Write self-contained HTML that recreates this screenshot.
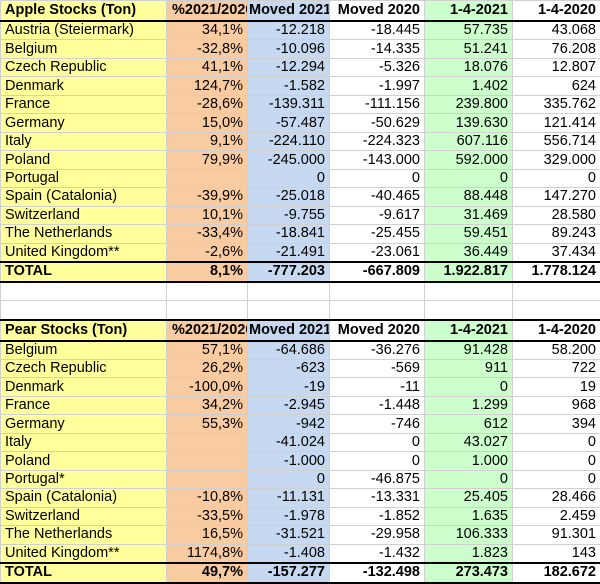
<!DOCTYPE html>
<html><head><style>
body{margin:0;width:600px;height:584px;overflow:hidden;background:#fff;font-family:"Liberation Sans",Arial,sans-serif;font-size:14.5px;color:#000}
table{border-collapse:collapse;table-layout:fixed;width:600px}
td{height:17.48px;padding:0 4px;border:1px solid #d0d0d0;white-space:nowrap;overflow:hidden;text-align:right;line-height:17px}
td:nth-child(1){background:#ffff9c;text-align:left}
td:nth-child(2){background:#f9cba1}
td:nth-child(3){background:#c6d9f0}
td:nth-child(5){background:#ccffcc}
tr.h td,tr.t td{font-weight:bold;font-size:14.5px}
tr.h td{border-bottom:2px solid #000;height:19px}
tr.h td:nth-child(2){text-align:left;padding-left:5px;text-overflow:clip}
tr.h td:nth-child(3){text-align:left;padding-left:1px;padding-right:0}
tr.t td{border-top:2px solid #000;border-bottom:2px solid #000}
tr.e td{background:#fff}
tr.ph td{border-top:2px solid #000}
</style></head><body>
<table>
<colgroup><col style="width:166px"><col style="width:81px"><col style="width:82px"><col style="width:95px"><col style="width:88px"><col style="width:88px"></colgroup>
<tr class="h"><td>Apple Stocks (Ton)</td><td>%2021/2020</td><td>Moved 2021</td><td>Moved 2020</td><td>1-4-2021</td><td>1-4-2020</td></tr>
<tr><td>Austria (Steiermark)</td><td>34,1%</td><td>-12.218</td><td>-18.445</td><td>57.735</td><td>43.068</td></tr>
<tr><td>Belgium</td><td>-32,8%</td><td>-10.096</td><td>-14.335</td><td>51.241</td><td>76.208</td></tr>
<tr><td>Czech Republic</td><td>41,1%</td><td>-12.294</td><td>-5.326</td><td>18.076</td><td>12.807</td></tr>
<tr><td>Denmark</td><td>124,7%</td><td>-1.582</td><td>-1.997</td><td>1.402</td><td>624</td></tr>
<tr><td>France</td><td>-28,6%</td><td>-139.311</td><td>-111.156</td><td>239.800</td><td>335.762</td></tr>
<tr><td>Germany</td><td>15,0%</td><td>-57.487</td><td>-50.629</td><td>139.630</td><td>121.414</td></tr>
<tr><td>Italy</td><td>9,1%</td><td>-224.110</td><td>-224.323</td><td>607.116</td><td>556.714</td></tr>
<tr><td>Poland</td><td>79,9%</td><td>-245.000</td><td>-143.000</td><td>592.000</td><td>329.000</td></tr>
<tr><td>Portugal</td><td></td><td>0</td><td>0</td><td>0</td><td>0</td></tr>
<tr><td>Spain (Catalonia)</td><td>-39,9%</td><td>-25.018</td><td>-40.465</td><td>88.448</td><td>147.270</td></tr>
<tr><td>Switzerland</td><td>10,1%</td><td>-9.755</td><td>-9.617</td><td>31.469</td><td>28.580</td></tr>
<tr><td>The Netherlands</td><td>-33,4%</td><td>-18.841</td><td>-25.455</td><td>59.451</td><td>89.243</td></tr>
<tr><td>United Kingdom**</td><td>-2,6%</td><td>-21.491</td><td>-23.061</td><td>36.449</td><td>37.434</td></tr>
<tr class="t"><td>TOTAL</td><td>8,1%</td><td>-777.203</td><td>-667.809</td><td>1.922.817</td><td>1.778.124</td></tr>
<tr class="e"><td></td><td></td><td></td><td></td><td></td><td></td></tr>
<tr class="e"><td></td><td></td><td></td><td></td><td></td><td></td></tr>
<tr class="h ph"><td>Pear Stocks (Ton)</td><td>%2021/2020</td><td>Moved 2021</td><td>Moved 2020</td><td>1-4-2021</td><td>1-4-2020</td></tr>
<tr><td>Belgium</td><td>57,1%</td><td>-64.686</td><td>-36.276</td><td>91.428</td><td>58.200</td></tr>
<tr><td>Czech Republic</td><td>26,2%</td><td>-623</td><td>-569</td><td>911</td><td>722</td></tr>
<tr><td>Denmark</td><td>-100,0%</td><td>-19</td><td>-11</td><td>0</td><td>19</td></tr>
<tr><td>France</td><td>34,2%</td><td>-2.945</td><td>-1.448</td><td>1.299</td><td>968</td></tr>
<tr><td>Germany</td><td>55,3%</td><td>-942</td><td>-746</td><td>612</td><td>394</td></tr>
<tr><td>Italy</td><td></td><td>-41.024</td><td>0</td><td>43.027</td><td>0</td></tr>
<tr><td>Poland</td><td></td><td>-1.000</td><td>0</td><td>1.000</td><td>0</td></tr>
<tr><td>Portugal*</td><td></td><td>0</td><td>-46.875</td><td>0</td><td>0</td></tr>
<tr><td>Spain (Catalonia)</td><td>-10,8%</td><td>-11.131</td><td>-13.331</td><td>25.405</td><td>28.466</td></tr>
<tr><td>Switzerland</td><td>-33,5%</td><td>-1.978</td><td>-1.852</td><td>1.635</td><td>2.459</td></tr>
<tr><td>The Netherlands</td><td>16,5%</td><td>-31.521</td><td>-29.958</td><td>106.333</td><td>91.301</td></tr>
<tr><td>United Kingdom**</td><td>1174,8%</td><td>-1.408</td><td>-1.432</td><td>1.823</td><td>143</td></tr>
<tr class="t"><td>TOTAL</td><td>49,7%</td><td>-157.277</td><td>-132.498</td><td>273.473</td><td>182.672</td></tr>
</table>
</body></html>
